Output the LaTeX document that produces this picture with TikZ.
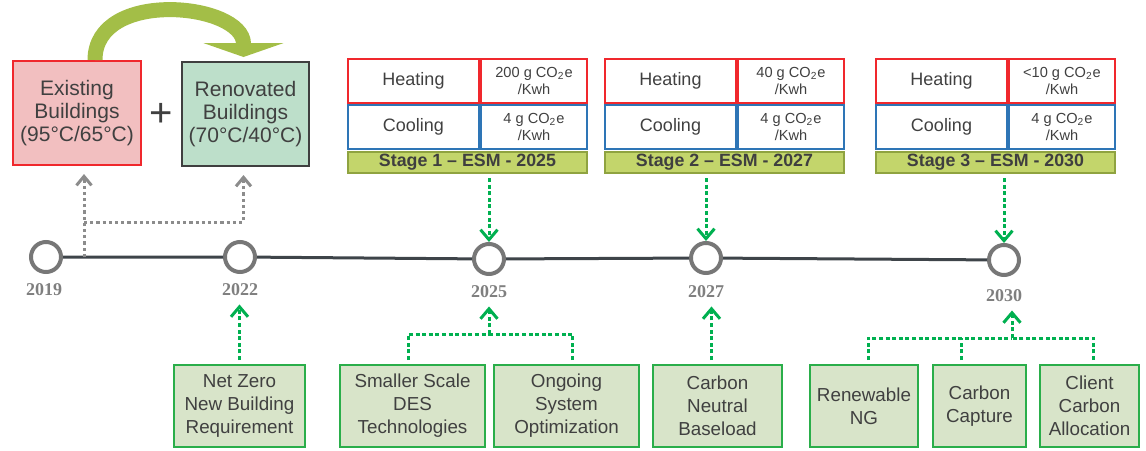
\documentclass[tikz,border=0pt]{standalone}
\usepackage{fontspec}
\setmainfont{Liberation Sans}
\newfontfamily\yrfont{Liberation Serif}
\usepackage{xcolor}
\usepackage{tikz}
\usetikzlibrary{positioning,arrows.meta}
\definecolor{txtgray}{HTML}{404040}
\definecolor{pinkfill}{HTML}{F2BFC0}
\definecolor{boxred}{HTML}{F0282D}
\definecolor{tealfill}{HTML}{BDDFCA}
\definecolor{darkline}{HTML}{3F3F3F}
\definecolor{olivegrn}{HTML}{A3BE47}
\definecolor{coolblue}{HTML}{2E75B6}
\definecolor{barfill}{HTML}{C3D56B}
\definecolor{barline}{HTML}{8FA340}
\definecolor{optfill}{HTML}{D8E4C9}
\definecolor{optline}{HTML}{2AAE4A}
\definecolor{grnline}{HTML}{00B050}
\definecolor{dotgray}{HTML}{8C8C8C}
\definecolor{ringgray}{HTML}{777777}
\definecolor{tlcol}{HTML}{3E4449}
\definecolor{yrgray}{HTML}{7F7F7F}

\begin{document}
\begin{tikzpicture}[x=0.5pt,y=-0.5pt,
  bld/.style={draw, line width=1pt, minimum height=52pt, align=center, text=txtgray, font=\fontsize{10.5}{11.5}\selectfont},
  cell/.style={draw, line width=1pt, minimum height=22pt, align=center, text=txtgray, inner sep=0pt, font=\fontsize{9}{10}\selectfont},
  val/.style={cell, minimum width=53pt, font=\fontsize{7.3}{8.5}\selectfont},
  bar/.style={draw=barline, fill=barfill, line width=1pt, minimum height=10.5pt, minimum width=119.5pt, inner sep=0pt, text=darkline, font=\fontsize{8.9}{9}\selectfont\bfseries},
  opt/.style={draw=optline, fill=optfill, line width=1pt, minimum height=41pt, align=center, text=txtgray, inner sep=0pt, font=\fontsize{9.4}{11.5}\selectfont},
  yr/.style={circle, draw=ringgray, line width=2pt, fill=white, minimum size=15pt, inner sep=0pt},
  yrlab/.style={font=\yrfont\bfseries\fontsize{9}{9}\selectfont, text=yrgray, inner sep=1pt},
  tline/.style={draw=tlcol, line width=1.5pt},
  grydot/.style={draw=dotgray, line width=1.5pt, dash pattern=on 1.6pt off 1.5pt},
  gryarr/.style={grydot, -{Straight Barb[width=7.5pt,length=4.5pt]}},
  grndot/.style={draw=grnline, line width=1.5pt, dash pattern=on 2pt off 1.3pt},
  grnarr/.style={grndot, -{Straight Barb[width=8.5pt,length=5pt]}}]
\useasboundingbox (0,0) rectangle (1146,450);

\node[bld, fill=pinkfill, draw=boxred, minimum width=64pt] (exist) at (77,113) {Existing\\Buildings\\(95°C/65°C)};
\node[bld, fill=tealfill, draw=darkline, minimum width=61.5pt] (renov) at (245.5,114) {Renovated\\Buildings\\(70°C/40°C)};
\node[font=\fontsize{20}{20}\selectfont, text=txtgray] (plus) at (161,115) {+};
\draw[line width=7.5pt, draw=olivegrn, -{Triangle[width=40pt,length=7pt]}] ([xshift=9pt]exist.north) .. controls +(0,36pt) and +(0,27pt) .. ([xshift=-1pt,yshift=2pt]renov.north);

\foreach \L/\v/\s in {347/200/1, 604/40/2, 875/{<10}/3} {
  \node[cell, draw=boxred, minimum width=65.5pt] (h\s) at (\L+66.5,80.5) {Heating};
  \node[val, draw=boxred] (hv\s) at (\L+187,80.5) {\v{} g CO\textsubscript{2}e\\/Kwh};
  \node[cell, draw=coolblue, minimum width=65.5pt] (c\s) at (\L+66.5,127) {Cooling};
  \node[val, draw=coolblue] (cv\s) at (\L+187,127) {4 g CO\textsubscript{2}e\\/Kwh};
}
\node[bar] (b1) at (467.5,162.5) {Stage 1 -- ESM - 2025};
\node[bar] (b2) at (724.5,162.5) {Stage 2 -- ESM - 2027};
\node[bar] (b3) at (995.5,162.5) {Stage 3 -- ESM - 2030};

\node[yr] (y19) at (46,257) {};
\node[yr] (y22) at (240,257) {};
\node[yr] (y25) at (489,259) {};
\node[yr] (y27) at (706,258) {};
\node[yr] (y30) at (1004,260) {};
\draw[tline] (y19) -- (y22) -- (y25) -- (y27) -- (y30);
\node[yrlab] (lab19) at (44,290) {2019};
\node[yrlab] (lab22) at (240,290) {2022};
\node[yrlab] (lab25) at (489,292) {2025};
\node[yrlab] (lab27) at (706,292) {2027};
\node[yrlab] (lab30) at (1004,296) {2030};

\coordinate (split) at (84,257);
\coordinate (fork) at (84,222);
\draw[gryarr, shorten >=4pt] (split) -- (split |- exist.south);
\draw[gryarr, shorten >=4pt] (fork) -| ([xshift=-1pt]renov.south);
\foreach \s/\y in {1/25,2/27,3/30} \draw[grnarr, shorten <=2pt] (b\s.south -| y\y) -- (y\y.north);

\node[opt, minimum width=65.5pt] (nz) at (239.5,406) {Net Zero\\New Building\\Requirement};
\node[opt, minimum width=72.5pt] (sd) at (412.5,406) {Smaller Scale\\DES\\Technologies};
\node[opt, minimum width=72.5pt] (og) at (566.5,406) {Ongoing\\System\\Optimization};
\node[opt, minimum width=64.5pt] (cn) at (717.5,406) {Carbon\\Neutral\\Baseload};
\node[opt, minimum width=54pt] (rn) at (864,406) {Renewable\\NG};
\node[opt, minimum width=46.5pt] (cc) at (979.5,406) {Carbon\\Capture};
\node[opt, minimum width=49.5pt] (ca) at (1089.5,406) {Client\\Carbon\\Allocation};

\coordinate (j25) at (489,334);
\coordinate (j30) at (1012,338);
\draw[grnarr, shorten <=2pt, shorten >=3pt] (nz.north) -- (nz.north |- lab22.south);
\draw[grndot, shorten <=2pt] ([xshift=-2pt]sd.north) |- (j25);
\draw[grndot, shorten <=2pt] ([xshift=3pt]og.north) |- (j25);
\draw[grnarr, shorten >=3pt] (j25) -- (j25 |- lab25.south);
\draw[grnarr, shorten <=2pt, shorten >=3pt] ([xshift=-3pt]cn.north) -- ([xshift=-3pt]cn.north |- lab27.south);
\draw[grndot, shorten <=2pt] ([xshift=2pt]rn.north) |- (j30);
\draw[grndot, shorten <=2pt] ([xshift=-9pt]cc.north) -- ([xshift=-9pt]cc.north |- j30);
\draw[grndot, shorten <=2pt] ([xshift=2pt]ca.north) |- (j30);
\draw[grnarr, shorten >=3pt] (j30) -- (j30 |- lab30.south);
\end{tikzpicture}
\end{document}
